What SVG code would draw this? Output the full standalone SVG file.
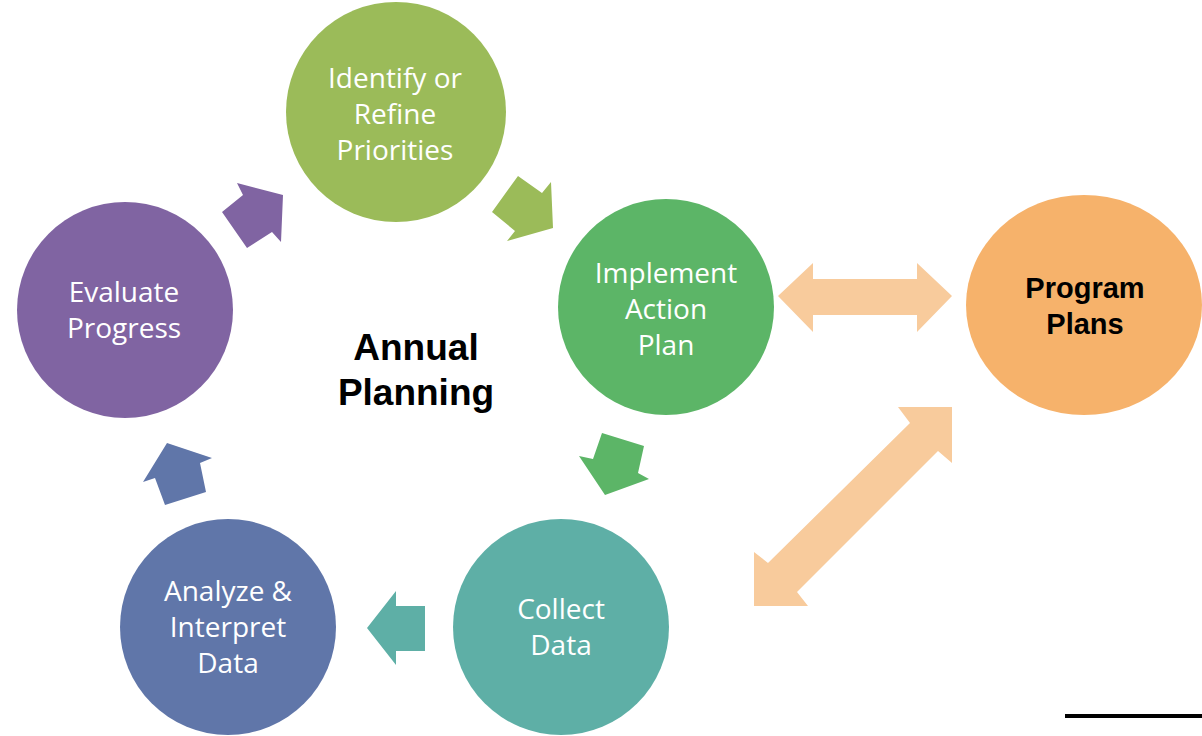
<svg xmlns="http://www.w3.org/2000/svg" width="1202" height="736" viewBox="0 0 1202 736">
<style>
.lbl{font-family:"Open Sans",Lato,"Liberation Sans",sans-serif;font-size:28px;fill:#fff;text-anchor:middle}
.blk{font-family:"Liberation Sans",Arial,sans-serif;font-weight:bold;fill:#000;text-anchor:middle}
</style>
<rect width="1202" height="736" fill="#fff"/>
<g id="connectors">
<polygon fill="#9BBB59" points="518,176 542,193 551,182 553,228 507,241 515,231 492,212"/>
<polygon fill="#5CB567" points="602,433 644,446 638,473 649,479 605,495 579,456 593,459"/>
<polygon fill="#5EAFA6" points="367,628 396,591 396,606 425,606 425,651 396,651 396,665"/>
<polygon fill="#6076A9" points="167,443 212,458 200,463 206,492 165,505 155,478 143,482"/>
<polygon fill="#8064A2" points="222,212 243,195 237,183 283,195 281,242 272,232 247,248"/>
<polygon fill="#F8CB9C" points="778,296 813,263 813,279 917,279 917,263 952,296 917,332 917,315 813,315 813,332"/>
<polygon fill="#F8CB9C" points="952,407 952,463 938,451 797,592 808,606 754,606 754,552 768,563 910,423 898,407"/>
</g>
<g id="identify">
<circle cx="396" cy="112" r="110" fill="#9BBB59"/>
<text class="lbl" x="395" y="88">Identify or</text>
<text class="lbl" x="395" y="124">Refine</text>
<text class="lbl" x="395" y="160">Priorities</text>
</g>
<g id="implement">
<circle cx="666" cy="307" r="108" fill="#5CB567"/>
<text class="lbl" x="666" y="283">Implement</text>
<text class="lbl" x="666" y="319">Action</text>
<text class="lbl" x="666" y="355">Plan</text>
</g>
<g id="collect">
<circle cx="561" cy="627" r="108" fill="#5EAFA6"/>
<text class="lbl" x="561" y="619">Collect</text>
<text class="lbl" x="561" y="655">Data</text>
</g>
<g id="analyze">
<circle cx="228" cy="627" r="108" fill="#6076A9"/>
<text class="lbl" x="228" y="601">Analyze &amp;</text>
<text class="lbl" x="228" y="637">Interpret</text>
<text class="lbl" x="228" y="673">Data</text>
</g>
<g id="evaluate">
<circle cx="125" cy="310" r="108" fill="#8064A2"/>
<text class="lbl" x="124" y="302">Evaluate</text>
<text class="lbl" x="124" y="338">Progress</text>
</g>
<g id="program-plans">
<ellipse cx="1084" cy="305" rx="118" ry="110" fill="#F6B26B"/>
<text class="blk" x="1085" y="298" font-size="29">Program</text>
<text class="blk" x="1085" y="334" font-size="29">Plans</text>
</g>
<g id="annual-planning">
<text class="blk" x="416" y="360" font-size="37">Annual</text>
<text class="blk" x="416" y="405" font-size="37">Planning</text>
</g>
<line x1="1065" y1="716" x2="1202" y2="716" stroke="#000" stroke-width="4"/>
</svg>
